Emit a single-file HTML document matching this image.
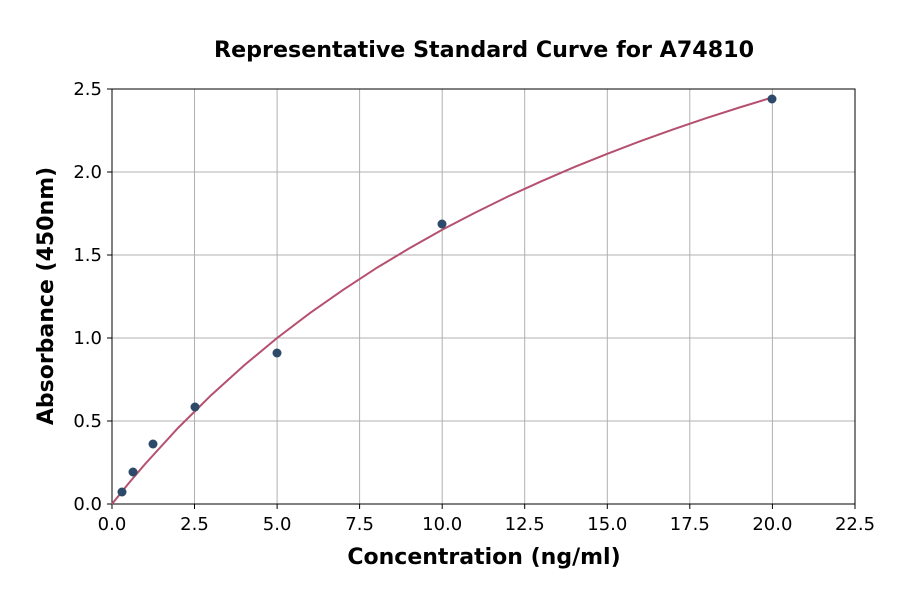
<!DOCTYPE html>
<html><head><style>body{margin:0;background:#fff}svg{display:block}</style></head><body>
<svg width="900" height="594" xmlns="http://www.w3.org/2000/svg" font-family="DejaVu Sans, Liberation Sans, sans-serif">
<rect width="900" height="594" fill="#fff"/>
<g stroke="#b0b0b0" stroke-width="1">
<line x1="112" y1="89" x2="112" y2="504"/><line x1="194.5" y1="89" x2="194.5" y2="504"/><line x1="277.1" y1="89" x2="277.1" y2="504"/><line x1="359.6" y1="89" x2="359.6" y2="504"/><line x1="442.2" y1="89" x2="442.2" y2="504"/><line x1="524.7" y1="89" x2="524.7" y2="504"/><line x1="607.3" y1="89" x2="607.3" y2="504"/><line x1="689.8" y1="89" x2="689.8" y2="504"/><line x1="772.4" y1="89" x2="772.4" y2="504"/>
<line x1="112" y1="421" x2="855" y2="421"/><line x1="112" y1="338" x2="855" y2="338"/><line x1="112" y1="255" x2="855" y2="255"/><line x1="112" y1="172" x2="855" y2="172"/>
</g>
<rect x="112" y="89" width="743" height="415" fill="none" stroke="#000" stroke-width="1"/>
<g stroke="#000"><line x1="112" y1="504" x2="112" y2="509"/><line x1="194.5" y1="504" x2="194.5" y2="509"/><line x1="277.1" y1="504" x2="277.1" y2="509"/><line x1="359.6" y1="504" x2="359.6" y2="509"/><line x1="442.2" y1="504" x2="442.2" y2="509"/><line x1="524.7" y1="504" x2="524.7" y2="509"/><line x1="607.3" y1="504" x2="607.3" y2="509"/><line x1="689.8" y1="504" x2="689.8" y2="509"/><line x1="772.4" y1="504" x2="772.4" y2="509"/><line x1="855" y1="504" x2="855" y2="509"/>
<line x1="107" y1="504" x2="112" y2="504"/><line x1="107" y1="421" x2="112" y2="421"/><line x1="107" y1="338" x2="112" y2="338"/><line x1="107" y1="255" x2="112" y2="255"/><line x1="107" y1="172" x2="112" y2="172"/><line x1="107" y1="89" x2="112" y2="89"/></g>
<g font-size="18" text-anchor="middle" fill="#000">
<text x="112" y="530">0.0</text><text x="194.5" y="530">2.5</text><text x="277.1" y="530">5.0</text><text x="359.6" y="530">7.5</text><text x="442.2" y="530">10.0</text><text x="524.7" y="530">12.5</text><text x="607.3" y="530">15.0</text><text x="689.8" y="530">17.5</text><text x="772.4" y="530">20.0</text><text x="855" y="530">22.5</text>
</g>
<g font-size="18" text-anchor="end" fill="#000">
<text x="102" y="510">0.0</text><text x="102" y="427">0.5</text><text x="102" y="344">1.0</text><text x="102" y="261">1.5</text><text x="102" y="178">2.0</text><text x="102" y="95">2.5</text>
</g>
<text x="484" y="57" font-size="22.2" font-weight="bold" text-anchor="middle">Representative Standard Curve for A74810</text>
<text x="484" y="564" font-size="22" font-weight="bold" text-anchor="middle">Concentration (ng/ml)</text>
<text transform="translate(53,296) rotate(-90)" font-size="22" font-weight="bold" text-anchor="middle">Absorbance (450nm)</text>
<polyline fill="none" stroke="#b5506f" stroke-width="2" points="112,504 128.5,483.5 145,464.1 178,428 211.1,395.2 244.1,365.4 277.1,338 310.1,312.9 343.2,289.8 376.2,268.2 409.2,248.4 442.2,229.8 475.2,212.6 508.2,196.4 541.3,181.3 574.3,167.1 607.3,153.8 640.3,141.2 673.4,129.3 706.4,118.1 739.4,107.5 772.4,97.4"/>
<g fill="#2e4a6b">
<circle cx="122" cy="492" r="4.5"/><circle cx="133" cy="472" r="4.5"/><circle cx="153" cy="444" r="4.5"/><circle cx="195" cy="407" r="4.5"/><circle cx="277" cy="353" r="4.5"/><circle cx="442" cy="224" r="4.5"/><circle cx="772" cy="99" r="4.5"/>
</g>
</svg>
</body></html>
